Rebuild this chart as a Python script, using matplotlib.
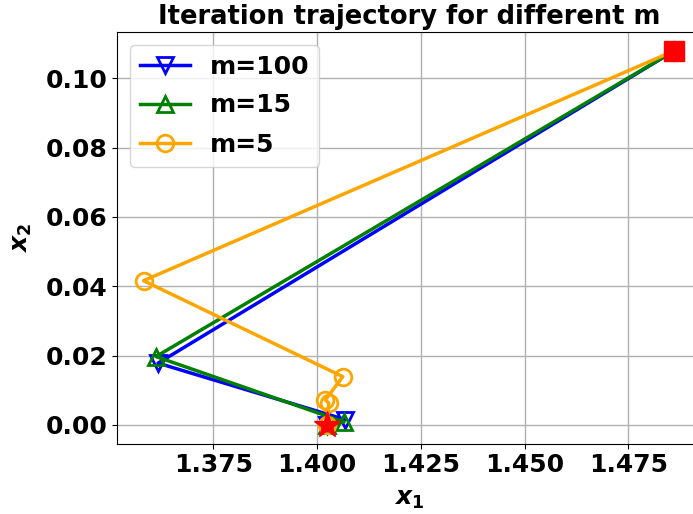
import matplotlib
matplotlib.use("Agg")
import matplotlib.pyplot as plt

# Trajectories (x1, x2) for each m
m100_x1 = [1.4861, 1.3617, 1.4068, 1.4025]
m100_x2 = [0.1080, 0.0178, 0.0015, 0.0000]
m15_x1 = [1.4861, 1.3612, 1.4065, 1.4025]
m15_x2 = [0.1080, 0.0197, 0.0008, 0.0000]
m5_x1 = [1.4861, 1.3582, 1.4062, 1.4020, 1.4028, 1.4025]
m5_x2 = [0.1080, 0.0416, 0.0139, 0.0072, 0.0063, 0.0000]
start = (1.4861, 0.1080)
optimum = (1.4025, 0.0000)

plt.rcParams['font.weight'] = 'bold'
plt.rcParams['font.size'] = 18

fig = plt.figure(figsize=(6.93, 5.14), dpi=100)
ax = fig.add_axes([117/693, 70.5/514, 584/693, 411.5/514])

ax.plot(m100_x1, m100_x2, color='blue', marker='v', markersize=12, fillstyle='none',
        markeredgewidth=2, linewidth=2.5, label='m=100')
ax.plot(m15_x1, m15_x2, color='green', marker='^', markersize=12, fillstyle='none',
        markeredgewidth=2, linewidth=2.5, label='m=15')
ax.plot(m5_x1, m5_x2, color='orange', marker='o', markersize=12, fillstyle='none',
        markeredgewidth=2, linewidth=2.5, label='m=5')
ax.plot([start[0]], [start[1]], 's', color='red', markersize=14, zorder=5)
ax.plot([optimum[0]], [optimum[1]], '*', color='red', markersize=20, zorder=5)

ax.set_xticks([1.375, 1.400, 1.425, 1.450, 1.475])
ax.set_yticks([0.00, 0.02, 0.04, 0.06, 0.08, 0.10])
ax.tick_params(labelsize=18)
for lbl in ax.get_xticklabels() + ax.get_yticklabels():
    lbl.set_fontweight('bold')
ax.grid(True, color='#b0b0b0', linewidth=1)
ax.set_xlabel(r'$\boldsymbol{x}_\mathbf{1}$', fontsize=18, labelpad=7)
ax.set_ylabel(r'$\boldsymbol{x}_\mathbf{2}$', fontsize=18, labelpad=8)
ax.set_title('Iteration trajectory for different m', fontsize=18.5, fontweight='bold', pad=6)
ax.legend(loc='upper left', prop={'weight': 'bold', 'size': 18}, labelspacing=0.6)

fig.savefig('out.png', dpi=100)
